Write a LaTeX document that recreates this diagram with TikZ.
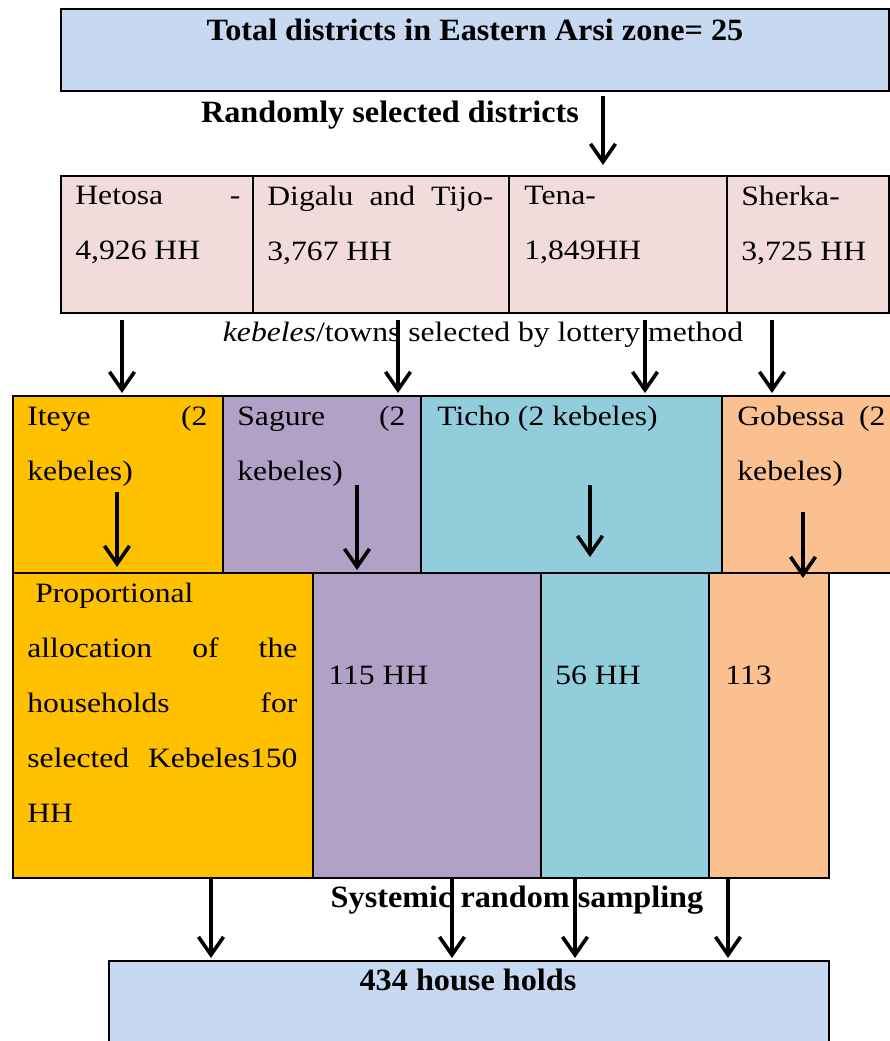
\documentclass[tikz,border=0pt]{standalone}
\usepackage{fontspec}
\setmainfont{Liberation Serif}[FakeStretch=1.13]
\newfontfamily\headfont{Liberation Serif}[FakeStretch=1.04]
\usetikzlibrary{arrows.meta,calc}
\definecolor{zoneblue}{HTML}{C6D9F1}
\definecolor{distpink}{HTML}{F2DCDB}
\definecolor{kebgold}{HTML}{FFC000}
\definecolor{kebviolet}{HTML}{B2A1C7}
\definecolor{kebteal}{HTML}{92CDDC}
\definecolor{kebpeach}{HTML}{FAC090}
\begin{document}
\begin{tikzpicture}[x=0.5pt,y=-0.5pt,line join=miter,
  box/.style={draw,line width=1pt,anchor=north west,inner sep=0pt},
  txt/.style={anchor=north west,inner sep=0pt,align=justify,font=\fontsize{14}{27.5}\selectfont},
  head/.style={anchor=base,inner sep=0pt,font=\headfont\fontsize{15.5}{18}\selectfont\bfseries},
  arr/.style={line width=1.8pt,-{Straight Barb[length=9pt,width=12.5pt]}}]
\useasboundingbox (0,0) rectangle (890,1041);\clip (0,0) rectangle (890,1041);
\node[box,fill=zoneblue,minimum width=414pt,minimum height=41pt] (total) at (60,8) {};
\node[box,fill=distpink,minimum width=96pt,minimum height=68.5pt] (hetosa) at (60,175) {};
\node[box,fill=distpink,minimum width=128pt,minimum height=68.5pt] (digalu) at (252,175) {};
\node[box,fill=distpink,minimum width=109pt,minimum height=68.5pt] (tena) at (508,175) {};
\node[box,fill=distpink,minimum width=81pt,minimum height=68.5pt] (sherka) at (726,175) {};
\node[box,fill=kebgold,minimum width=105pt,minimum height=88.5pt] (iteye) at (12,395) {};
\node[box,fill=kebviolet,minimum width=99pt,minimum height=88.5pt] (sagure) at (222,395) {};
\node[box,fill=kebteal,minimum width=150.5pt,minimum height=88.5pt] (ticho) at (420,395) {};
\node[box,fill=kebpeach,minimum width=92pt,minimum height=88.5pt] (gobessa) at (721,395) {};
\node[box,fill=kebgold,minimum width=150pt,minimum height=152.5pt] (propall) at (12,572) {};
\node[box,fill=kebviolet,minimum width=114pt,minimum height=152.5pt] (sagurehh) at (312,572) {};
\node[box,fill=kebteal,minimum width=84pt,minimum height=152.5pt] (tichohh) at (540,572) {};
\node[box,fill=kebpeach,minimum width=60pt,minimum height=152.5pt] (gobessahh) at (708,572) {};
\node[box,fill=zoneblue,minimum width=360pt,minimum height=50pt] (households) at (108,960) {};
\node[head] (totaltxt) at (475,40) {Total districts in Eastern Arsi zone= 25};
\node[head] (randtxt) at (390,122) {Randomly selected districts};
\node[anchor=base,inner sep=0pt,font=\fontsize{14}{16}\selectfont] (lotterytxt) at (483,341) {\textit{kebeles}/towns selected by lottery method};
\node[head] (systxt) at (517,907) {Systemic random sampling};
\node[head] (hhtxt) at (468,990) {434 house holds};
\node[txt,text width=82.5pt] (hetosatxt) at (75,186) {Hetosa -\linebreak 4,926 HH};
\node[txt,text width=113pt] (digalutxt) at (267,186) {Digalu and Tijo-\linebreak 3,767 HH};
\node[txt,text width=94pt] (tenatxt) at (524,186) {Tena-\\1,849HH};
\node[txt,text width=72pt] (sherkatxt) at (741,186) {Sherka-\\3,725 HH};
\node[txt,text width=90pt] (iteyetxt) at (27,406) {Iteye (2\linebreak kebeles)};
\node[txt,text width=84pt] (saguretxt) at (237,406) {Sagure (2\linebreak kebeles)};
\node[txt,text width=140pt] (tichotxt) at (437,406) {Ticho (2 kebeles)};
\node[txt,text width=74pt] (gobessatxt) at (737,406) {Gobessa (2\linebreak kebeles)};
\node[txt,text width=135pt] (propalltxt) at (27,583) {\ Proportional\\allocation of the\linebreak households for\linebreak selected Kebeles150\linebreak HH};
\node[txt,text width=90pt] (saguretxt2) at (328,666) {115 HH};
\node[txt,text width=70pt] (tichotxt2) at (555,666) {56 HH};
\node[txt,text width=45pt] (gobessatxt2) at (725,666) {113};
\draw[arr,shorten <=2pt,shorten >=5pt] (total.south -| 603,0) -- (tena.north -| 603,0);
\draw[arr,shorten <=3pt,shorten >=1pt] (hetosa.south -| 122,0) -- (iteye.north -| 122,0);
\draw[arr,shorten <=3pt,shorten >=1pt] (digalu.south -| 398,0) -- (sagure.north -| 398,0);
\draw[arr,shorten <=3pt,shorten >=1pt] (tena.south -| 645,0) -- (ticho.north -| 645,0);
\draw[arr,shorten <=3pt,shorten >=1pt] (sherka.south -| 772,0) -- (gobessa.north -| 772,0);
\draw[arr,shorten >=2.5pt] ($(iteye.south -| 117,0)+(0,-82)$) -- (propall.north -| 117,0);
\draw[arr,shorten >=1pt] ($(sagure.south -| 357,0)+(0,-89)$) -- (sagurehh.north -| 357,0);
\draw[arr,shorten >=7.5pt] ($(ticho.south -| 590,0)+(0,-89)$) -- (tichohh.north -| 590,0);
\draw[arr,shorten >=-3pt] ($(gobessa.south -| 803,0)+(0,-62)$) -- (gobessahh.north -| 803,0);
\draw[arr,shorten >=1pt] (propall.south -| 211,0) -- (households.north -| 211,0);
\draw[arr,shorten >=1pt] (sagurehh.south -| 452,0) -- (households.north -| 452,0);
\draw[arr,shorten >=1pt] (tichohh.south -| 575,0) -- (households.north -| 575,0);
\draw[arr,shorten >=1pt] (gobessahh.south -| 728,0) -- (households.north -| 728,0);
\end{tikzpicture}
\end{document}
